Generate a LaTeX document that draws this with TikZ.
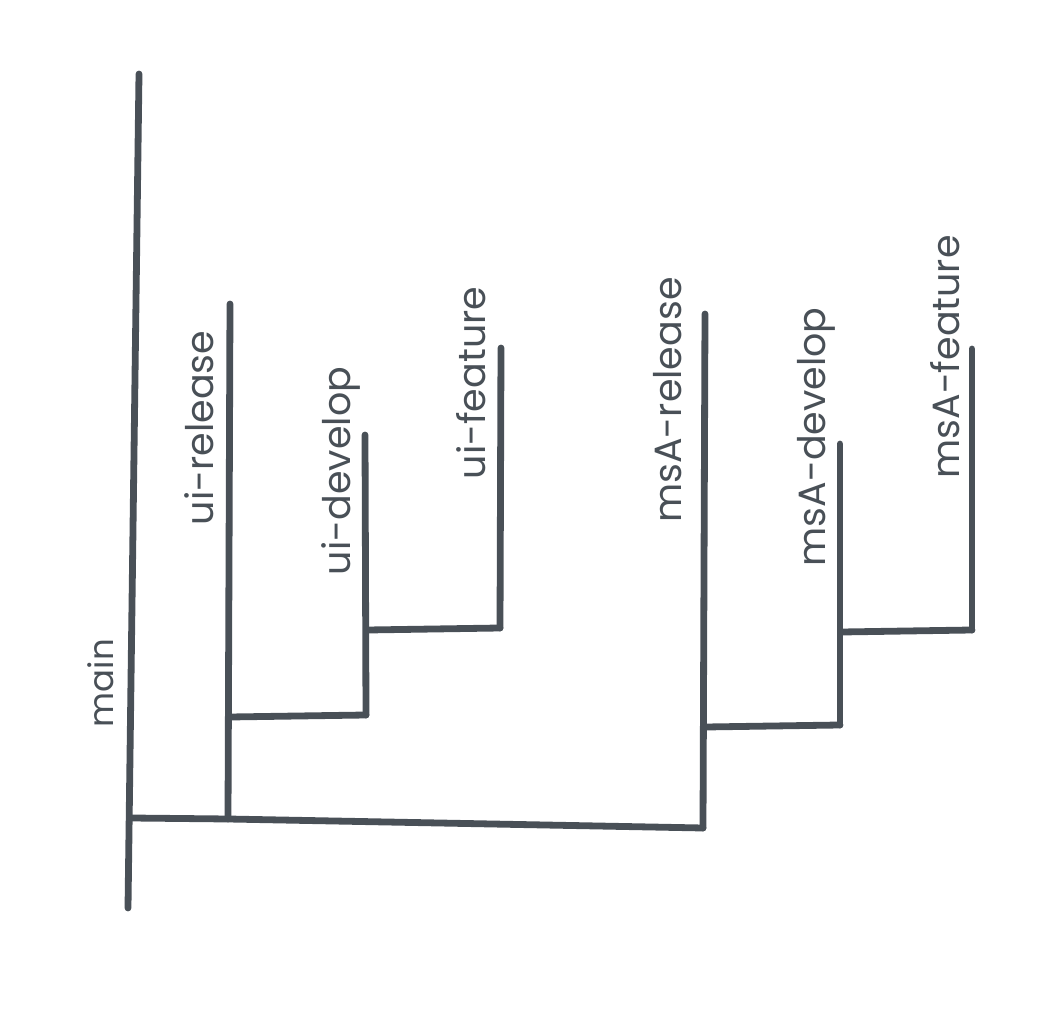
\documentclass[tikz,border=0pt]{standalone}
\usepackage{fontspec}
\setmainfont{Poppins}
\usepackage{tikz}
\definecolor{git_gray}{RGB}{73,80,87}

\begin{document}
\begin{tikzpicture}[
  x=0.5pt,y=-0.5pt,
  branchline/.style={line width=3.4pt,line cap=round,line join=round,color=git_gray},
  brlabel/.style={rotate=90,color=git_gray,inner sep=0pt,
                  font=\fontsize{19}{22}\selectfont}
]
\useasboundingbox (0,0) rectangle (1046,1010);
% branch points
\coordinate (main_top) at (139,74);
\coordinate (main_bot) at (128,908);
\coordinate (main_fork) at (131,818);
\coordinate (uir_top) at (230,304);
\coordinate (uir_bot) at (228,819);
\coordinate (uir_fork) at (230,717);
\coordinate (uid_top) at (365,435);
\coordinate (uid_bot) at (366,715);
\coordinate (uid_fork) at (368,630);
\coordinate (uif_top) at (501,348);
\coordinate (uif_bot) at (500,628);
\coordinate (msr_top) at (705,314);
\coordinate (msr_bot) at (703,828);
\coordinate (msr_fork) at (706,727);
\coordinate (msd_top) at (840,444);
\coordinate (msd_bot) at (840,725);
\coordinate (msd_fork) at (842,632);
\coordinate (msf_top) at (972,349);
\coordinate (msf_bot) at (972,630);
% branches
\draw[branchline] (main_top) -- (main_bot);
\draw[branchline] (main_fork) -- (uir_bot) -- (msr_bot);
\draw[branchline] (uir_top) -- (uir_bot);
\draw[branchline] (uir_fork) -- (uid_bot);
\draw[branchline] (uid_top) -- (uid_bot);
\draw[branchline] (uid_fork) -- (uif_bot);
\draw[branchline] (uif_top) -- (uif_bot);
\draw[branchline] (msr_top) -- (msr_bot);
\draw[branchline] (msr_fork) -- (msd_bot);
\draw[branchline] (msd_top) -- (msd_bot);
\draw[branchline] (msd_fork) -- (msf_bot);
\draw[branchline] (msf_top) -- (msf_bot);
% labels
\node[brlabel,font=\fontsize{17}{20}\selectfont] (lbl_main) at (101,683) {main};
\node[brlabel] (lbl_uir) at (199,428) {ui-release};
\node[brlabel] (lbl_uid) at (341,471) {ui-develop};
\node[brlabel] (lbl_uif) at (471,383) {ui-feature};
\node[brlabel] (lbl_msr) at (668,400) {msA-release};
\node[brlabel] (lbl_msd) at (816,437) {msA-develop};
\node[brlabel] (lbl_msf) at (945,357) {msA-feature};
\end{tikzpicture}
\end{document}
